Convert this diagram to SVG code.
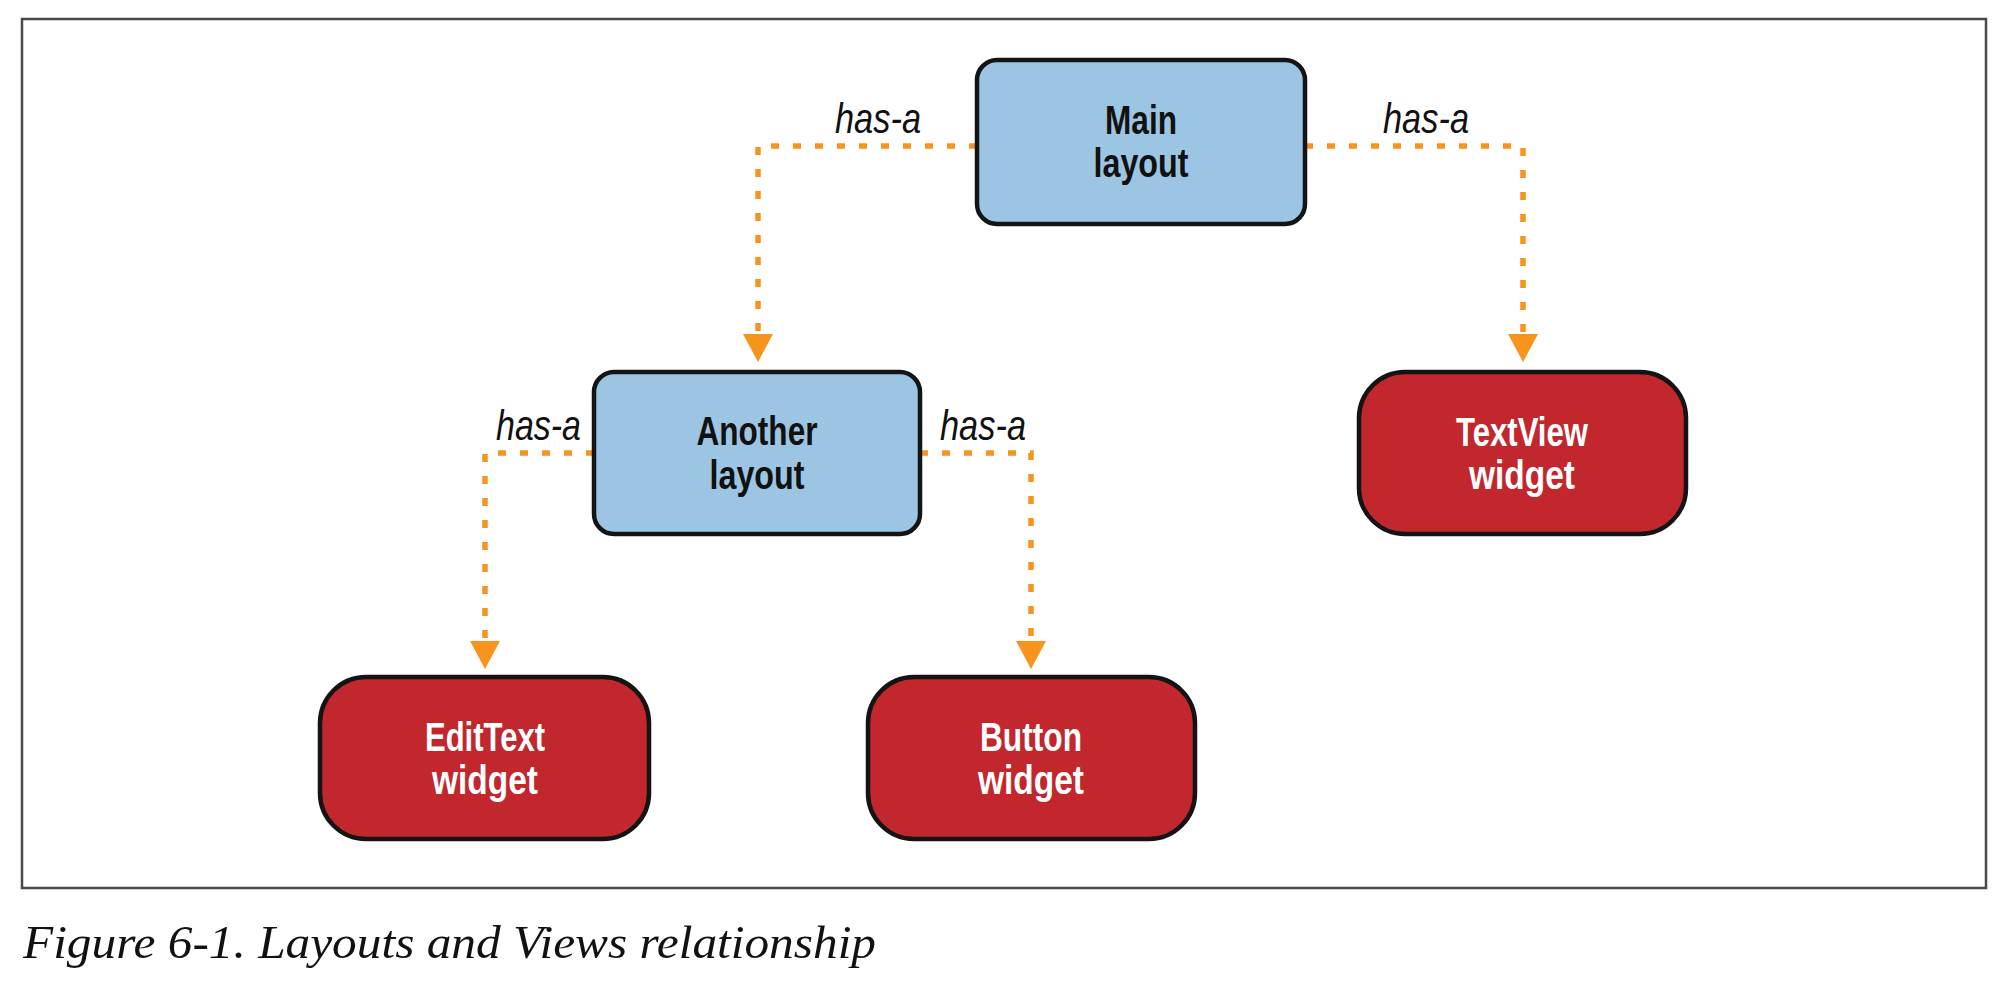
<svg xmlns="http://www.w3.org/2000/svg" width="2010" height="984" viewBox="0 0 2010 984">
<style>
.bg{fill:#ffffff}
.frame{fill:none;stroke:#4a4a4a;stroke-width:2.5}
.layout{fill:#9cc5e3;stroke:#141414;stroke-width:4.5}
.widget{fill:#c1272d;stroke:#141414;stroke-width:4.5}
.lbl{font-family:"Liberation Sans Narrow","Liberation Sans",Arial,sans-serif;font-weight:bold;font-size:40px;text-anchor:middle}
.dark{fill:#111111}
.light{fill:#ffffff}
.hasa{font-family:"Liberation Sans Narrow","Liberation Sans",Arial,sans-serif;font-style:italic;font-size:42px;fill:#111111}
.conn{fill:none;stroke:#f7941e;stroke-width:5.5;stroke-dasharray:8 14}
.cap{font-family:"Liberation Serif","Times New Roman",serif;font-style:italic;font-size:47px;fill:#111111}
</style>
<defs>
<marker id="arr" viewBox="0 0 28 30" refX="28" refY="15" markerWidth="28" markerHeight="30" markerUnits="userSpaceOnUse" orient="auto">
<path d="M0,0 L28,15 L0,30 Z" fill="#f7941e"/>
</marker>
</defs>
<rect class="bg" x="0" y="0" width="2010" height="984"/>
<rect class="frame" x="22" y="19" width="1964" height="869"/>

<g id="connectors">
<path class="conn" d="M977,146 H758 V362" marker-end="url(#arr)"/>
<path class="conn" d="M1305,146 H1523 V362" marker-end="url(#arr)"/>
<path class="conn" d="M594,453 H485 V669" marker-end="url(#arr)"/>
<path class="conn" d="M920,453 H1031 V669" marker-end="url(#arr)"/>
<text class="hasa" x="835" y="133" textLength="86" lengthAdjust="spacingAndGlyphs">has-a</text>
<text class="hasa" x="1383" y="133" textLength="86" lengthAdjust="spacingAndGlyphs">has-a</text>
<text class="hasa" x="496" y="440" textLength="85" lengthAdjust="spacingAndGlyphs">has-a</text>
<text class="hasa" x="940" y="440" textLength="86" lengthAdjust="spacingAndGlyphs">has-a</text>
</g>

<g id="main-layout">
<rect class="layout" x="977" y="60" width="328" height="164" rx="20" ry="20"/>
<text class="lbl dark" x="1141" y="134" textLength="72" lengthAdjust="spacingAndGlyphs">Main</text>
<text class="lbl dark" x="1141" y="177" textLength="95" lengthAdjust="spacingAndGlyphs">layout</text>
</g>

<g id="another-layout">
<rect class="layout" x="594" y="372" width="326" height="162" rx="20" ry="20"/>
<text class="lbl dark" x="757" y="445" textLength="121" lengthAdjust="spacingAndGlyphs">Another</text>
<text class="lbl dark" x="757" y="489" textLength="95" lengthAdjust="spacingAndGlyphs">layout</text>
</g>

<g id="textview-widget">
<rect class="widget" x="1359" y="372" width="327" height="162" rx="46" ry="46"/>
<text class="lbl light" x="1522" y="446" textLength="132" lengthAdjust="spacingAndGlyphs">TextView</text>
<text class="lbl light" x="1522" y="489" textLength="106" lengthAdjust="spacingAndGlyphs">widget</text>
</g>

<g id="edittext-widget">
<rect class="widget" x="320" y="677" width="329" height="162" rx="46" ry="46"/>
<text class="lbl light" x="485" y="751" textLength="120" lengthAdjust="spacingAndGlyphs">EditText</text>
<text class="lbl light" x="485" y="794" textLength="106" lengthAdjust="spacingAndGlyphs">widget</text>
</g>

<g id="button-widget">
<rect class="widget" x="868" y="677" width="327" height="162" rx="46" ry="46"/>
<text class="lbl light" x="1031" y="751" textLength="102" lengthAdjust="spacingAndGlyphs">Button</text>
<text class="lbl light" x="1031" y="794" textLength="106" lengthAdjust="spacingAndGlyphs">widget</text>
</g>

<text class="cap" x="23" y="958" textLength="853" lengthAdjust="spacingAndGlyphs">Figure 6-1. Layouts and Views relationship</text>
</svg>
